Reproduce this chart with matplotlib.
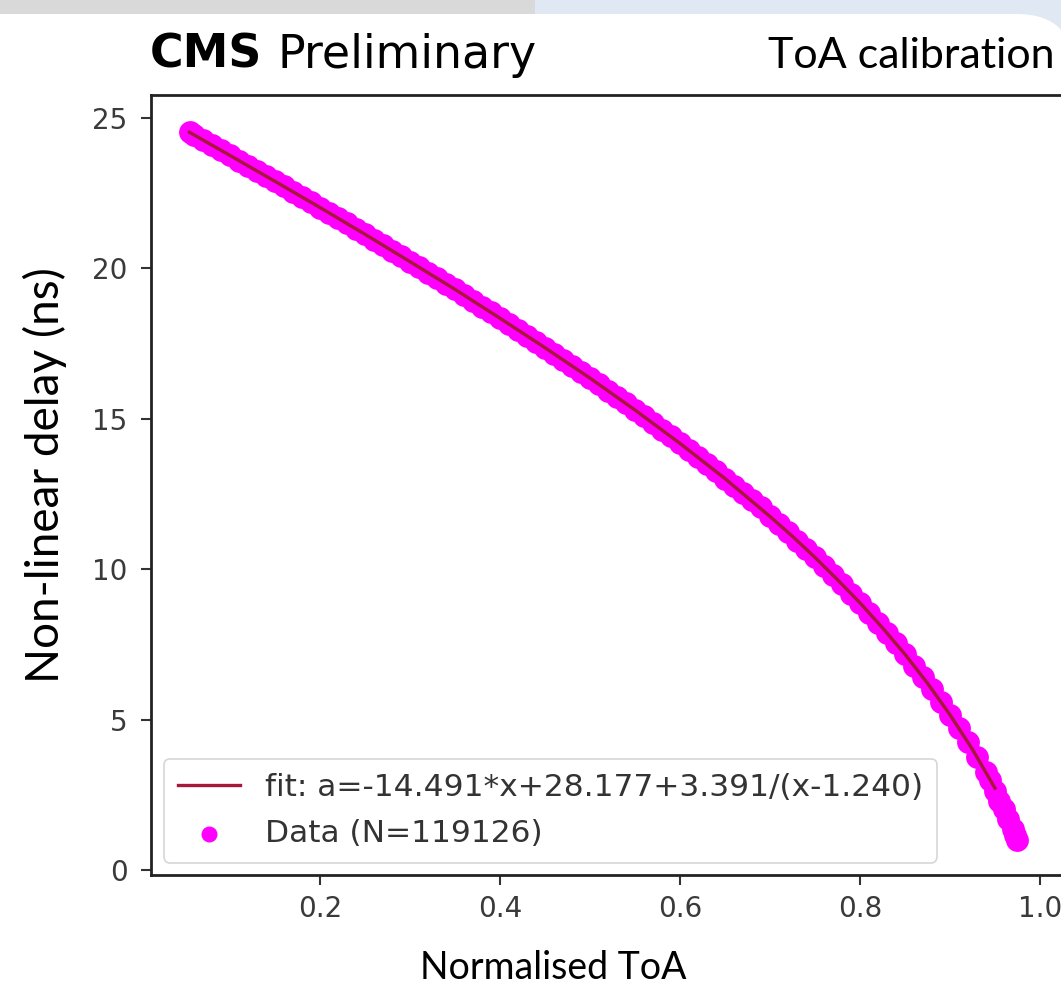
"""
ToA calibration: non-linear delay vs normalised ToA, with fit
"""

import numpy as np
import matplotlib.pyplot as plt
from matplotlib.patches import Rectangle, FancyBboxPatch

# data
toa_norm = [0.055, 0.06, 0.07, 0.08, 0.09, 0.10, 0.11, 0.12, 0.13, 0.14,
            0.15, 0.16, 0.17, 0.18, 0.19, 0.20, 0.21, 0.22, 0.23, 0.24,
            0.25, 0.26, 0.27, 0.28, 0.29, 0.30, 0.31, 0.32, 0.33, 0.34,
            0.35, 0.36, 0.37, 0.38, 0.39, 0.40, 0.41, 0.42, 0.43, 0.44,
            0.45, 0.46, 0.47, 0.48, 0.49, 0.50, 0.51, 0.52, 0.53, 0.54,
            0.55, 0.56, 0.57, 0.58, 0.59, 0.60, 0.61, 0.62, 0.63, 0.64,
            0.65, 0.66, 0.67, 0.68, 0.69, 0.70, 0.71, 0.72, 0.73, 0.74,
            0.75, 0.76, 0.77, 0.78, 0.79, 0.80, 0.81, 0.82, 0.83, 0.84,
            0.85, 0.86, 0.87, 0.88, 0.89, 0.90, 0.91, 0.92, 0.93, 0.94,
            0.945, 0.95, 0.955, 0.96, 0.965, 0.97, 0.972, 0.975]
delay = [24.52, 24.43, 24.27, 24.09, 23.93, 23.75, 23.58, 23.41, 23.24, 23.06,
         22.89, 22.72, 22.54, 22.37, 22.19, 22.02, 21.84, 21.67, 21.49, 21.31,
         21.13, 20.95, 20.77, 20.59, 20.41, 20.22, 20.04, 19.85, 19.67, 19.48,
         19.30, 19.11, 18.92, 18.73, 18.54, 18.34, 18.15, 17.96, 17.76, 17.56,
         17.36, 17.16, 16.96, 16.76, 16.56, 16.35, 16.14, 15.93, 15.72, 15.51,
         15.29, 15.08, 14.86, 14.63, 14.41, 14.18, 13.96, 13.72, 13.49, 13.25,
         13.01, 12.77, 12.52, 12.30, 12.05, 11.75, 11.49, 11.22, 10.95, 10.67,
         10.39, 10.10, 9.80, 9.50, 9.19, 8.88, 8.55, 8.22, 7.88, 7.53,
         7.17, 6.79, 6.41, 6.01, 5.59, 5.16, 4.71, 4.25, 3.76, 3.25,
         3.00, 2.62, 2.30, 2.02, 1.70, 1.35, 1.15, 1.00]

# fit curve as drawn
fit_x = [0.055, 0.10, 0.15, 0.20, 0.25, 0.30, 0.35, 0.40, 0.45, 0.50,
         0.55, 0.60, 0.65, 0.70, 0.725, 0.75, 0.775, 0.80, 0.825, 0.85,
         0.875, 0.90, 0.925, 0.95]
fit_y = [24.52, 23.75, 22.89, 22.02, 21.13, 20.22, 19.30, 18.34, 17.36, 16.35,
         15.29, 14.18, 13.01, 11.75, 11.09, 10.39, 9.65, 8.88, 8.05, 7.17,
         6.21, 5.16, 4.01, 2.72]

fit_label = "fit: a=-14.491*x+28.177+3.391/(x-1.240)"
data_label = "Data (N=119126)"

W, H = 1061, 990
fig = plt.figure(figsize=(W / 100, H / 100), dpi=100)

# slide background behind the plot
fig.patches.append(Rectangle((0, 0), 1, 1, transform=fig.transFigure,
                             facecolor="#dfe8f3", edgecolor="none", zorder=-10))
fig.patches.append(Rectangle((0, 1 - 14 / H), 535 / W, 14 / H, transform=fig.transFigure,
                             facecolor="#d9d9d9", edgecolor="none", zorder=-9))
card = FancyBboxPatch((-80 / W, -80 / H), (1074 + 80) / W, (990 - 14 + 80) / H,
                      boxstyle="round,pad=0,rounding_size=0.054",
                      transform=fig.transFigure, facecolor="white", edgecolor="none", zorder=-8,
                      mutation_aspect=W / H)
fig.patches.append(card)

ax = fig.add_axes([151 / W, 1 - 875 / H, (1064 - 151) / W, (875 - 95) / H])
ax.set_facecolor("white")

pts = ax.scatter(toa_norm, delay, s=270, color="#ff00ff", linewidths=0, label=data_label, zorder=2)
fit_line, = ax.plot(fit_x, fit_y, color="#a8163a", lw=2.4, label=fit_label, zorder=3)

ax.set_xlim(0.0122, 1.0267)
ax.set_ylim(-0.166, 25.76)
ax.set_xticks([0.2, 0.4, 0.6, 0.8, 1.0])
ax.set_xticklabels(["0.2", "0.4", "0.6", "0.8", "1.0"])
ax.set_yticks([0, 5, 10, 15, 20, 25])
ax.tick_params(labelsize=20, labelcolor="#3a3a3a", length=7.5, width=1.5, color="#333333")
ax.tick_params(axis="y", pad=9.5)
ax.tick_params(axis="x", pad=7)
for s in ax.spines.values():
    s.set_linewidth(2)
    s.set_color("#222222")

ax.set_xlabel("Normalised ToA", fontfamily="Lato", fontsize=27)
ax.set_ylabel("Non-linear delay (ns)", fontfamily="Lato", fontsize=33)
ax.xaxis.set_label_coords((553 - 151) / 913, -(968 - 875) / 780, transform=ax.transAxes)
ax.xaxis.label.set_va("center")
ax.yaxis.set_label_coords(-(151 - 45) / 913, (875 - 475) / 780, transform=ax.transAxes)
ax.yaxis.label.set_va("center")

leg = ax.legend([fit_line, pts], [fit_label, data_label], loc="lower left", fontsize=22.5,
                frameon=True, edgecolor="#cccccc", handlelength=2.0, borderpad=0.45,
                labelspacing=0.55, handletextpad=0.8, borderaxespad=0.4, markerscale=0.7)
leg.get_frame().set_linewidth(1.2)
for t in leg.get_texts():
    t.set_color("#333333")

fig.text(150 / W, 1 - 68 / H, "CMS", fontweight="bold", fontsize=33,
         ha="left", va="baseline")
fig.text(277 / W, 1 - 68 / H, "Preliminary", fontsize=33,
         ha="left", va="baseline")
fig.text(1055 / W, 1 - 68 / H, "ToA calibration", fontfamily="Lato", fontsize=31,
         ha="right", va="baseline")

fig.savefig("out.png", dpi=100)
